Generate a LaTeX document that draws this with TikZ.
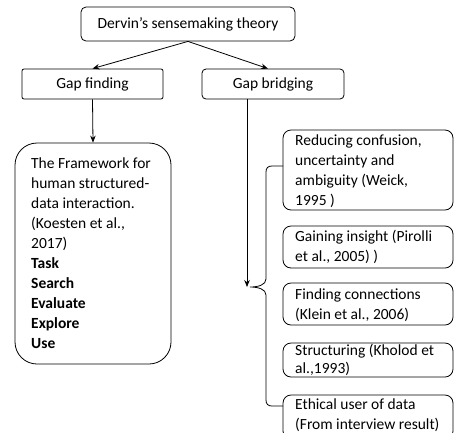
\documentclass[tikz,border=0pt]{standalone}
\usepackage{fontspec}
\setmainfont{Carlito}
\usetikzlibrary{arrows.meta}
\begin{document}
\begin{tikzpicture}[x=1pt,y=-1pt,
  every node/.style={font=\fontsize{15.5}{20}\selectfont},
  box/.style={draw, line width=0.8pt, inner sep=0pt},
  rbox/.style={box, rounded corners=8pt, minimum width=170pt},
  txt/.style={align=left, inner sep=0pt, anchor=west},
  arr/.style={-{Stealth[length=7pt,width=5.5pt]}, line width=0.8pt},
  ln/.style={line width=0.8pt}]
\useasboundingbox (0,0) rectangle (454,432);
% top level
\node[box, rounded corners=5pt, minimum width=214pt, minimum height=34pt] (top) at (188,24) {Dervin’s sensemaking theory};
\node[box, rounded corners=2pt, minimum width=141pt, minimum height=30pt] (gapf) at (92.5,84) {Gap finding};
\node[box, rounded corners=4pt, minimum width=142pt, minimum height=30pt] (gapb) at (273,84) {Gap bridging};
% framework box
\node[box, rounded corners=22pt, minimum width=156pt, minimum height=221pt] (frame) at (93,253.5) {};
\node[txt] (frametxt) at (31,253.5) {The Framework for\\human structured-\\data interaction.\\(Koesten et al.,\\2017)\\\textbf{Task}\\\textbf{Search}\\\textbf{Evaluate}\\\textbf{Explore}\\\textbf{Use}};
% right boxes
\node[rbox, minimum height=80pt] (r1) at (368,170) {};
\node[txt] (t1) at (295,171) {Reducing confusion,\\uncertainty and\\ambiguity (Weick,\\1995 )};
\node[rbox, minimum height=42pt] (r2) at (368,247) {};
\node[txt] (t2) at (295,247) {Gaining insight (Pirolli\\et al., 2005) )};
\node[rbox, minimum height=42pt] (r3) at (368,304) {};
\node[txt] (t3) at (295,305) {Finding connections\\(Klein et al., 2006)};
\node[rbox, minimum height=34pt] (r4) at (368,360) {};
\node[txt, font=\fontsize{15.5}{18}\selectfont] (t4) at (295,360) {Structuring (Kholod et\\al.,1993)};
\node[rbox, minimum height=44pt] (r5) at (368,417) {};
\node[txt] (t5) at (295,415) {Ethical user of data\\(From interview result)};
% connectors
\draw[arr] (top.south) -- (gapf.north);
\draw[arr] (top.south) -- ([xshift=-5pt]gapb.north);
\draw[arr] (gapf.south) -- (frame.north);
\coordinate (bend) at (247,287);
\draw[arr] (gapb.south -| bend) -- (bend);
% brace
\coordinate (btop) at (283,166);
\coordinate (bbot) at (283,406);
\draw[ln] (btop) -- (272,166) .. controls (268,166) and (266,168) .. (266,172) -- (266,279)
  .. controls (266,285) and (258,287) .. (250,287)
  .. controls (258,287) and (266,289) .. (266,295) -- (266,400)
  .. controls (266,404) and (268,406) .. (272,406) -- (bbot);
\end{tikzpicture}
\end{document}
